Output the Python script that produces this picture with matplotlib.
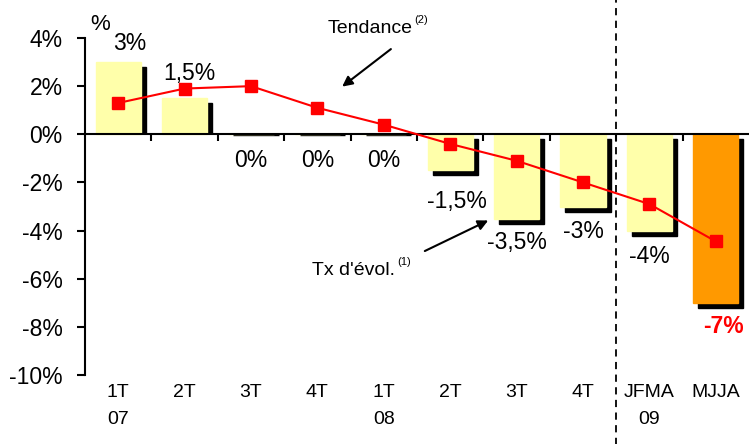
import matplotlib.pyplot as plt
from matplotlib.transforms import ScaledTranslation, TransformedBbox, Bbox

plt.rcParams['font.family'] = ['Liberation Sans', 'DejaVu Sans']

# Data
categories = ['1T\n07', '2T', '3T', '4T', '1T\n08', '2T', '3T', '4T', 'JFMA\n09', 'MJJA']
evolution = [3, 1.5, 0, 0, 0, -1.5, -3.5, -3, -4, -7]
value_labels = ['3%', '1,5%', '0%', '0%', '0%', '-1,5%', '-3,5%', '-3%', '-4%', '-7%']
trend = [1.3, 1.9, 2.0, 1.1, 0.4, -0.4, -1.1, -2.0, -2.9, -4.45]
yticks = [4, 2, 0, -2, -4, -6, -8, -10]

# label offsets in pixels from the bar end
label_offsets = [(12, 19), (5, 25), (0, -26), (0, -26), (0, -26),
                 (7, -31), (0, -24), (0, -25), (0, -26), (8, -24)]

fig = plt.figure(figsize=(7.49, 4.44), dpi=100)
ax = fig.add_axes([85 / 749, 1 - 375 / 444, 664 / 749, 337 / 444])

x = list(range(len(categories)))
colors = ['#FFFFAA'] * (len(x) - 1) + ['#FF9900']

# Shadow bars (offset right/down by 5 px)
off = ScaledTranslation(5 / fig.dpi, -5 / fig.dpi, fig.dpi_scale_trans)
off_flat = ScaledTranslation(5 / fig.dpi, -1 / fig.dpi, fig.dpi_scale_trans)
shadows = ax.bar(x, evolution, width=0.68, color='black', edgecolor='black',
                 linewidth=1, zorder=1)
for rect, v in zip(shadows, evolution):
    rect.set_transform(ax.transData + (off if v != 0 else off_flat))
    if v > 0:
        rect.set_clip_box(TransformedBbox(Bbox([[-0.5, 0], [9.5, 4]]), ax.transData))

ax.bar(x, evolution, width=0.68, color=colors, edgecolor=colors, linewidth=1, zorder=2)

# Trend line
ax.plot(x, trend, color='#FF0000', lw=1.5, marker='s', markersize=9,
        markeredgecolor='#FF0000', zorder=5)

# Value labels
for i, (v, lab, off_px) in enumerate(zip(evolution, value_labels, label_offsets)):
    last = i == len(x) - 1
    ax.annotate(lab, (i, v), xytext=off_px, textcoords='offset pixels',
                ha='center', va='center', fontsize=16.5,
                color='#FF0000' if last else 'black',
                fontweight='bold' if last else 'normal', zorder=6)

# Axes styling
ax.set_xlim(-0.5, 9.5)
ax.set_ylim(-10, 4)
ax.spines['top'].set_visible(False)
ax.spines['right'].set_visible(False)
ax.spines['bottom'].set_position(('data', 0))
ax.spines['bottom'].set_linewidth(1.5)
ax.spines['left'].set_linewidth(1.5)
ax.spines['bottom'].set_zorder(3)
ax.set_yticks(yticks)
ax.set_yticklabels([f'{t}%' for t in yticks], fontsize=16.5)
ax.tick_params(axis='y', direction='out', length=6, width=1.5, pad=10)
ax.set_xticks([i + 0.5 for i in x[:-1]])
ax.set_xticklabels([])
ax.tick_params(axis='x', direction='out', length=5, width=1.5)

# Category labels below the plot
for i, c in enumerate(categories):
    ax.text(i, -0.028, c, transform=ax.get_xaxis_transform(), ha='center', va='top',
            fontsize=14, linespacing=1.7)

# Separator between 2008 and 2009
ax.axvline(7.5, ymin=-0.21, ymax=1.12, color='black', ls=(0, (4, 3)), lw=1.3,
           clip_on=False, zorder=4)

ax.text(-0.27, 4.55, '%', fontsize=16, ha='center', va='center')

# Annotations
ax.annotate('', xy=(3.34, 1.91), xytext=(4.14, 3.61),
            arrowprops=dict(arrowstyle='-|>', color='black', lw=1.5, mutation_scale=15))
t1 = ax.text(3.8, 4.4, 'Tendance', fontsize=14, ha='center', va='center')
ax.annotate('(2)', xy=(1.0, 1.0), xycoords=t1, xytext=(1, 0),
            textcoords='offset points', fontsize=8, ha='left', va='center')

ax.annotate('', xy=(5.61, -3.53), xytext=(4.58, -4.9),
            arrowprops=dict(arrowstyle='-|>', color='black', lw=1.5, mutation_scale=15))
t2 = ax.text(3.55, -5.65, "Tx d'évol.", fontsize=14, ha='center', va='center')
ax.annotate('(1)', xy=(1.0, 1.0), xycoords=t2, xytext=(1, 0),
            textcoords='offset points', fontsize=8, ha='left', va='center')

fig.savefig('out.png', dpi=100)
plt.close(fig)
